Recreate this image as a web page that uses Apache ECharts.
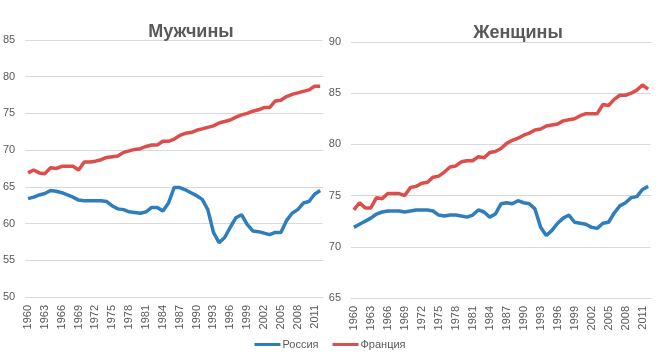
<!DOCTYPE html>
<html><head><meta charset="utf-8">
<script src="https://cdn.jsdelivr.net/npm/echarts@6/dist/echarts.min.js"></script>
<style>html,body{margin:0;padding:0;background:#fff}#c{width:660px;height:363px}</style>
</head><body><div id="c"></div>
<script>
const years = [];
for (let y = 1960; y <= 2012; y++) years.push(String(y));

const russiaMale = [63.4,63.6,63.9,64.1,64.5,64.4,64.2,63.9,63.6,63.2,63.1,63.1,63.1,63.1,63.0,62.4,62.0,61.9,61.6,61.5,61.4,61.6,62.2,62.2,61.7,62.8,64.9,64.9,64.6,64.2,63.8,63.3,61.9,58.8,57.4,58.1,59.5,60.8,61.2,59.9,59.0,58.9,58.7,58.5,58.8,58.8,60.4,61.4,61.9,62.8,63.0,64.0,64.5];
const franceMale = [66.9,67.3,66.9,66.8,67.6,67.5,67.8,67.8,67.8,67.3,68.4,68.4,68.5,68.7,69.0,69.1,69.2,69.7,69.9,70.1,70.2,70.5,70.7,70.7,71.2,71.2,71.5,72.0,72.3,72.4,72.7,72.9,73.1,73.3,73.7,73.9,74.1,74.5,74.8,75.0,75.3,75.5,75.8,75.8,76.7,76.8,77.3,77.6,77.8,78.0,78.2,78.7,78.7];
const russiaFemale = [71.9,72.2,72.5,72.8,73.2,73.4,73.5,73.5,73.5,73.4,73.5,73.6,73.6,73.6,73.5,73.1,73.0,73.1,73.1,73.0,72.9,73.1,73.6,73.4,72.9,73.2,74.2,74.3,74.2,74.5,74.3,74.2,73.7,71.9,71.1,71.6,72.3,72.8,73.1,72.4,72.3,72.2,71.9,71.8,72.3,72.4,73.3,74.0,74.3,74.8,74.9,75.6,75.9];
const franceFemale = [73.6,74.3,73.8,73.8,74.8,74.7,75.2,75.2,75.2,75.0,75.8,75.9,76.2,76.3,76.8,76.9,77.3,77.8,77.9,78.3,78.4,78.4,78.8,78.7,79.2,79.3,79.6,80.1,80.4,80.6,80.9,81.1,81.4,81.5,81.8,81.9,82.0,82.3,82.4,82.5,82.8,83.0,83.0,83.0,83.9,83.8,84.4,84.8,84.8,85.0,85.3,85.8,85.4];

const titles = ['Мужчины', 'Женщины'];
const seriesNames = ['Россия', 'Франция'];
const maleRange = [50, 85];
const femaleRange = [65, 90];

const FONT = 'Liberation Sans';
const GRAY = '#595959';
const BLUE = '#2e7dbd';
const RED = '#dd4d4a';

function xAxis(gi){
  return {type:'category', gridIndex:gi, data:years, boundaryGap:true,
    axisLine:{show:true, lineStyle:{color:'#d9d9d9'}}, axisTick:{show:false},
    axisLabel:{rotate:90, interval:2, color:GRAY, fontFamily:FONT, fontSize:11, margin:8}};
}
function yAxis(gi, r){
  return {type:'value', gridIndex:gi, min:r[0], max:r[1], interval:5,
    axisLine:{show:false}, axisTick:{show:false},
    splitLine:{lineStyle:{color:'#d9d9d9'}},
    axisLabel:{color:GRAY, fontFamily:FONT, fontSize:11, margin:10}};
}
function line(name, gi, data, color){
  return {name, type:'line', xAxisIndex:gi, yAxisIndex:gi, data, symbol:'none',
    lineStyle:{width:3.5, color}, itemStyle:{color}, animation:false};
}

const chart = echarts.init(document.getElementById('c'));
chart.setOption({
  animation:false,
  title:[
    {text:titles[0], left:186, top:18, textAlign:'center', textStyle:{fontFamily:FONT, fontSize:18, fontWeight:'bold', color:GRAY}},
    {text:titles[1], left:513, top:19, textAlign:'center', textStyle:{fontFamily:FONT, fontSize:18, fontWeight:'bold', color:GRAY}}
  ],
  grid:[
    {left:25, right:337, top:40, bottom:66},
    {left:351, right:9, top:42, bottom:65}
  ],
  legend:{bottom:8, left:'center', itemWidth:26, itemHeight:3, itemGap:14, icon:'rect',
    data:seriesNames, textStyle:{fontFamily:FONT, fontSize:11, color:GRAY, padding:[0,0,0,-3]}},
  xAxis:[xAxis(0), xAxis(1)],
  yAxis:[yAxis(0, maleRange), yAxis(1, femaleRange)],
  series:[
    line(seriesNames[0], 0, russiaMale, BLUE),
    line(seriesNames[1], 0, franceMale, RED),
    line(seriesNames[0], 1, russiaFemale, BLUE),
    line(seriesNames[1], 1, franceFemale, RED)
  ]
});
</script></body></html>
